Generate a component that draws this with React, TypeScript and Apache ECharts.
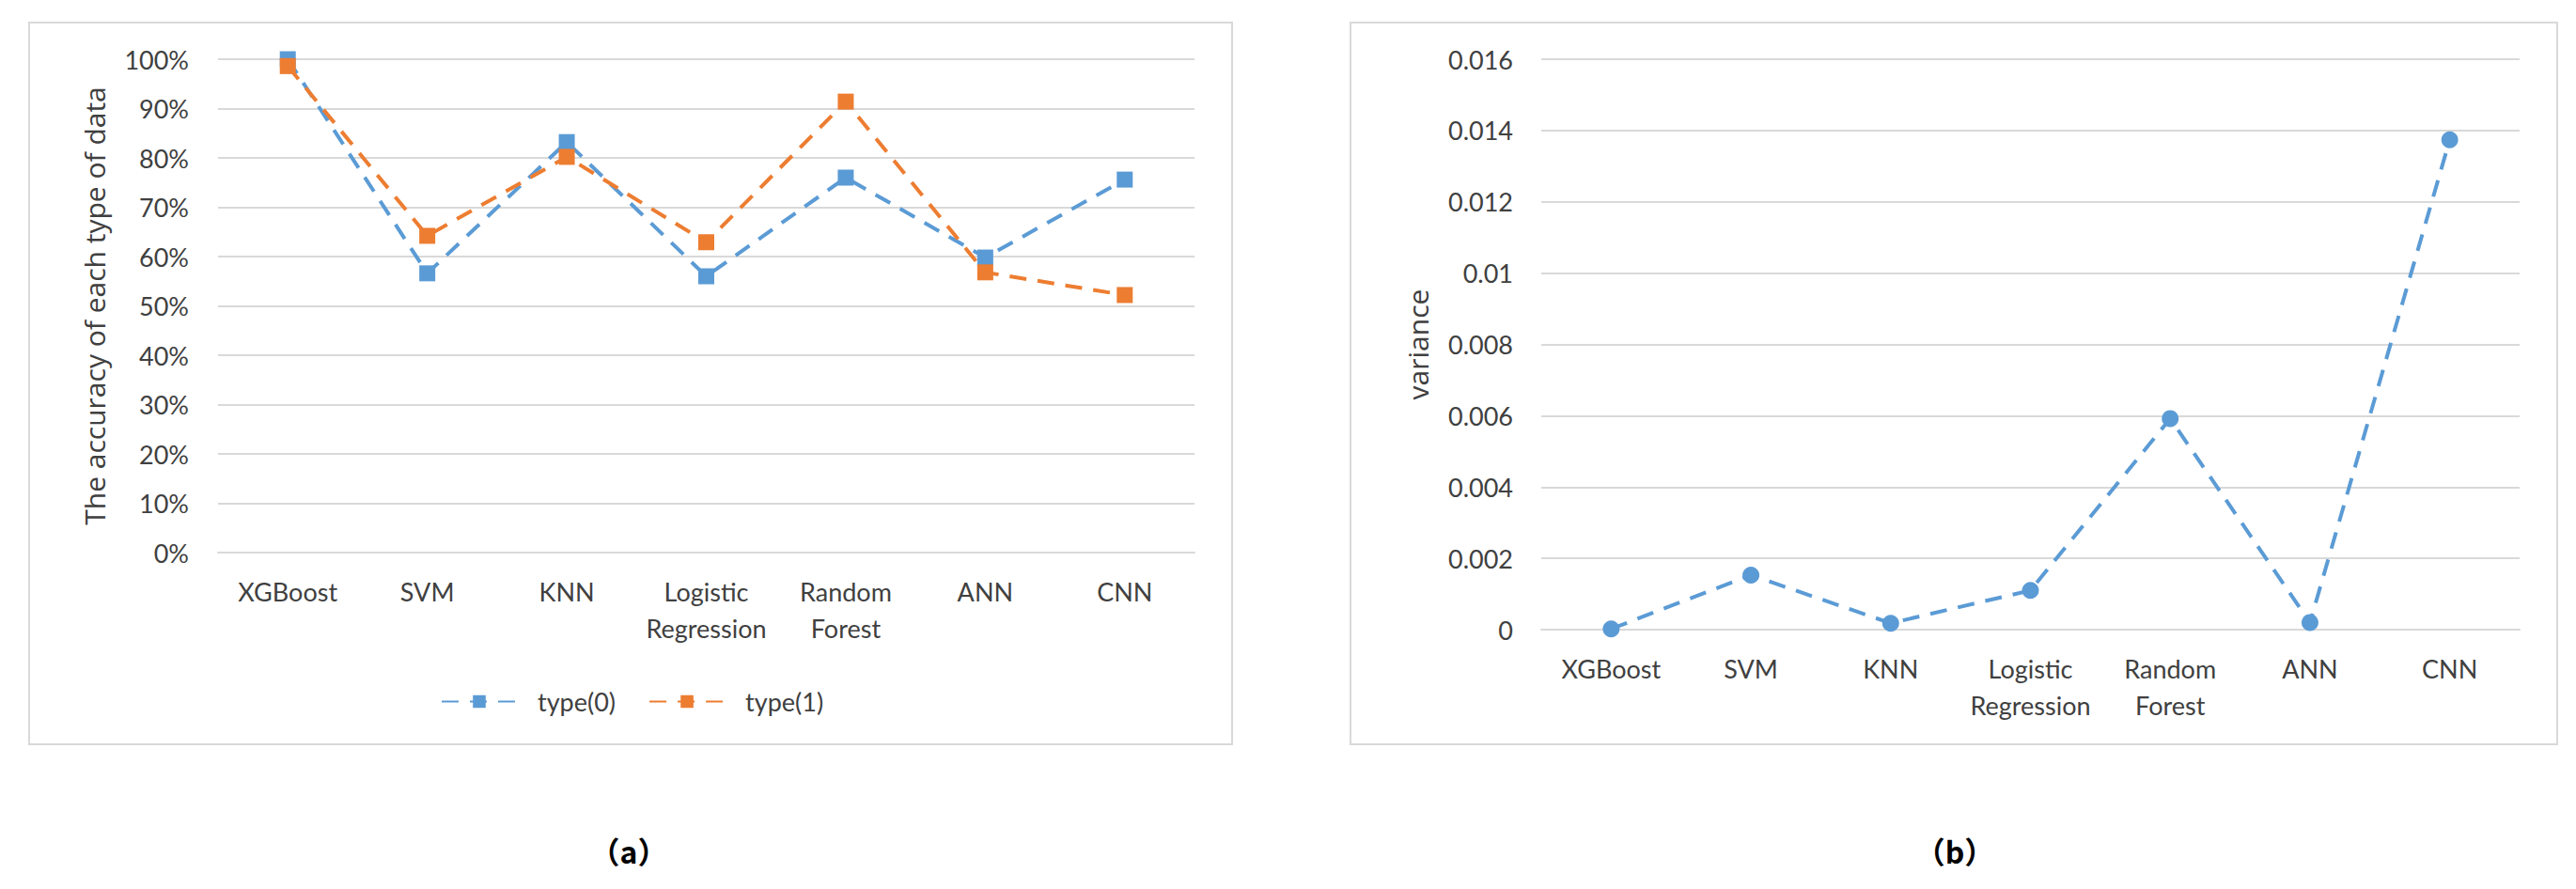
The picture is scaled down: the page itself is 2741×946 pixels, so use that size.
import React, { useEffect, useRef } from "react";
import * as echarts from "echarts";

const categories = ["XGBoost", "SVM", "KNN", "Logistic\nRegression", "Random\nForest", "ANN", "CNN"];
const type0 = [1.0, 0.566, 0.832, 0.56, 0.76, 0.598, 0.756];
const type1 = [0.986, 0.642, 0.802, 0.629, 0.914, 0.568, 0.522];
const variance = [0.00002, 0.00153, 0.00018, 0.0011, 0.00592, 0.0002, 0.01374];
const seriesNames = ["type(0)", "type(1)"];
const captions = ["（a）", "（b）"];

const BLUE = "#5B9BD5";
const ORANGE = "#ED7D31";
const GRID = "#d9d9d9";
const TXT = "#404040";
const LABEL_FONT = "Lato";
const TITLE_FONT = "Open Sans";

export default function App() {
  const ref = useRef<HTMLDivElement>(null);
  useEffect(() => {
    document.body.style.margin = "0";
    const chart = echarts.init(ref.current!, undefined, { renderer: "svg" });
    const axisLabel = { color: TXT, fontFamily: LABEL_FONT, fontSize: 27 };
    const xAxisCommon = {
      type: "category",
      data: categories,
      boundaryGap: true,
      axisLine: { show: true, lineStyle: { color: GRID, width: 2 } },
      axisTick: { show: false },
      axisLabel: { ...axisLabel, margin: 22, lineHeight: 39, interval: 0 },
    };
    const yAxisCommon = {
      type: "value",
      min: 0,
      axisLine: { show: false },
      axisTick: { show: false },
      splitLine: { show: true, lineStyle: { color: GRID, width: 2 } },
      nameLocation: "middle",
      nameRotate: 90,
      nameGap: 117,
      nameTextStyle: { color: TXT, fontFamily: TITLE_FONT, fontSize: 30 },
    };
    const dashed = { width: 4, type: [18, 12] };
    chart.setOption({
      animation: false,
      backgroundColor: "#ffffff",
      grid: [
        { left: 232, right: 2741 - 1271, top: 63, bottom: 946 - 588 },
        { left: 1640, right: 2741 - 2681, top: 63, bottom: 946 - 670 },
      ],
      xAxis: [
        { ...xAxisCommon, gridIndex: 0 },
        { ...xAxisCommon, gridIndex: 1 },
      ],
      yAxis: [
        {
          ...yAxisCommon,
          gridIndex: 0,
          max: 1,
          interval: 0.1,
          name: "The accuracy of each type of data",
          axisLabel: { ...axisLabel, margin: 31, formatter: (v: number) => Math.round(v * 100) + "%" },
        },
        {
          ...yAxisCommon,
          gridIndex: 1,
          max: 0.016,
          interval: 0.002,
          name: "variance",
          axisLabel: { ...axisLabel, margin: 30, formatter: (v: number) => String(parseFloat(v.toFixed(3))) },
        },
      ],
      legend: {
        data: seriesNames,
        left: 464,
        top: 728,
        itemWidth: 80,
        itemHeight: 17,
        itemGap: 35,
        textStyle: { color: TXT, fontFamily: LABEL_FONT, fontSize: 27, padding: [0, 0, 0, 17] },
      },
      series: [
        {
          name: seriesNames[0],
          type: "line",
          xAxisIndex: 0,
          yAxisIndex: 0,
          data: type0,
          symbol: "rect",
          symbolSize: 17,
          itemStyle: { color: BLUE },
          lineStyle: { color: BLUE, ...dashed },
        },
        {
          name: seriesNames[1],
          type: "line",
          xAxisIndex: 0,
          yAxisIndex: 0,
          data: type1,
          symbol: "rect",
          symbolSize: 17,
          itemStyle: { color: ORANGE },
          lineStyle: { color: ORANGE, ...dashed },
        },
        {
          name: "variance",
          type: "line",
          xAxisIndex: 1,
          yAxisIndex: 1,
          data: variance,
          symbol: "circle",
          symbolSize: 18,
          itemStyle: { color: BLUE },
          lineStyle: { color: BLUE, ...dashed },
        },
      ],
      graphic: [
        {
          type: "rect",
          z: -10,
          shape: { x: 31, y: 24, width: 1280, height: 768 },
          style: { fill: "none", stroke: GRID, lineWidth: 2 },
        },
        {
          type: "rect",
          z: -10,
          shape: { x: 1437, y: 24, width: 1284, height: 768 },
          style: { fill: "none", stroke: GRID, lineWidth: 2 },
        },
        {
          type: "text",
          x: 669,
          y: 905,
          style: {
            text: captions[0],
            fill: "#000",
            font: "bold 32px 'Noto Sans CJK SC'",
            textAlign: "center",
            textVerticalAlign: "middle",
          },
        },
        {
          type: "text",
          x: 2080,
          y: 905,
          style: {
            text: captions[1],
            fill: "#000",
            font: "bold 32px 'Noto Sans CJK SC'",
            textAlign: "center",
            textVerticalAlign: "middle",
          },
        },
      ],
    });
    return () => chart.dispose();
  }, []);
  return <div ref={ref} style={{ width: 2741, height: 946 }} />;
}
